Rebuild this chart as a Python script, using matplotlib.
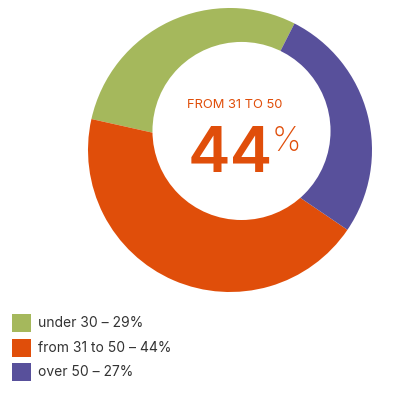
import matplotlib
matplotlib.use("Agg")
import matplotlib.pyplot as plt
from matplotlib.patches import Circle, Rectangle

# data
labels = ["under 30", "from 31 to 50", "over 50"]
shares = [29, 44, 27]
colors = ["#A5B85C", "#E04E0A", "#58509B"]
center_label = "FROM 31 TO 50"
center_value = 44

plt.rcParams['font.family'] = ['Inter', 'DejaVu Sans']

W, H = 393, 394
fig = plt.figure(figsize=(W / 100, H / 100), dpi=100)

# donut axes: center (230,150) px, radius 142 px
cx, cy, r = 230, 150, 142
ax = fig.add_axes([(cx - r) / W, (H - cy - r) / H, 2 * r / W, 2 * r / H])
ax.pie(shares, colors=colors, startangle=63, counterclock=True,
       radius=1, wedgeprops=dict(linewidth=0))
# the hole sits off-centre (up and to the right)
ax.add_patch(Circle((0.081, 0.134), 0.627, facecolor='white', edgecolor='none', zorder=3))
ax.set_xlim(-1, 1)
ax.set_ylim(-1, 1)
ax.set_aspect('equal')
ax.axis('off')

ax.text(0.035, 0.317, center_label, ha='center', va='center',
        fontsize=9.3, color="#E04E0A", zorder=4)
ax.text(0.0, -0.155, str(center_value), ha='center', va='baseline',
        fontsize=46, fontweight='semibold', color="#E04E0A", zorder=4)
ax.text(0.29, 0.17, "%", ha='left', va='top',
        fontsize=24, fontweight='light', color="#E04E0A", zorder=4)

# legend
for i, (lab, s, c) in enumerate(zip(labels, shares, colors)):
    top = 314 + i * 24.5
    fig.add_artist(Rectangle((12 / W, 1 - (top + 18) / H), 19 / W, 18 / H,
                             transform=fig.transFigure, facecolor=c, edgecolor='none'))
    fig.text(38 / W, 1 - (top + 9) / H, f"{lab} \u2013 {s}%", ha='left', va='center',
             fontsize=10, color="#333333")

fig.savefig("out.png", dpi=100)
